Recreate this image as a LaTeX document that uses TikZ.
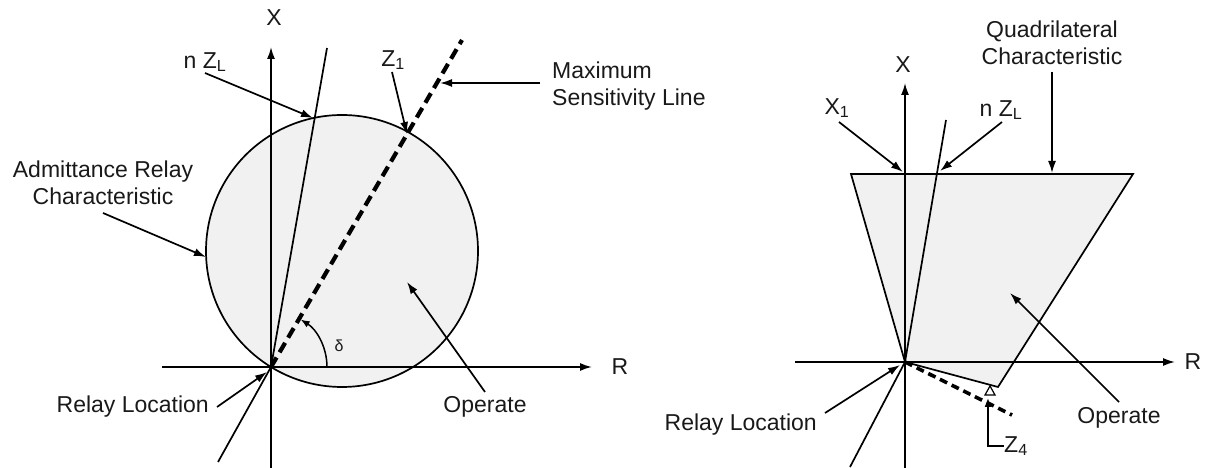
\documentclass[tikz,border=0pt]{standalone}
\usepackage{fontspec}
\setmainfont{Liberation Sans}
\usetikzlibrary{arrows.meta}
\begin{document}
\begin{tikzpicture}[x=1pt,y=1pt,
  ln/.style={line width=1.7pt, draw=black},
  arr/.style={line width=1.7pt, -{Latex[length=12pt,width=8pt]}},
  sarr/.style={line width=1.5pt, -{Latex[length=9pt,width=7pt]}},
  lbl/.style={font=\fontsize{23}{27}\selectfont, text=black!90, inner sep=0pt, align=center},
  slbl/.style={font=\fontsize{16}{18}\selectfont, text=black!90, inner sep=0pt},
  dshA/.style={line width=4.2pt, dash pattern=on 11pt off 6pt},
  dshB/.style={line width=3.6pt, dash pattern=on 8pt off 5pt},
  zone/.style={fill=gray!11},
]
\useasboundingbox (0,0) rectangle (1207,468);

% ================= LEFT: admittance relay =================
\coordinate (O1) at (271,101);
\coordinate (C1) at (342,217);
\coordinate (Z1pt) at (407,334);
\coordinate (nZtop) at (327,420);
\coordinate (nZpt) at (313,350);
\coordinate (MStop) at (462,428);
\coordinate (MSbot) at (218,6);
\coordinate (RaxL) at (162,101);
\coordinate (RaxR) at (592,101);
\coordinate (XaxB) at (271,0);
\coordinate (XaxT) at (271,421);
\coordinate (MSpt) at (440,385);
\coordinate (Cleft) at (206,211);
\coordinate (OpTip) at (407,186);
\coordinate (RLtip) at (267,96);
\coordinate (d0) at (327,101);

\fill[zone] (C1) circle (136);
\draw[ln] (C1) circle (136);

\draw[ln] (O1) -- (nZtop);
\draw[ln] (O1) -- (MSbot);
\draw[dshA] (O1) -- (MStop);

\draw[arr] (RaxL) -- (RaxR);
\draw[arr] (XaxB) -- (XaxT);

\node[lbl] (X1lab) at (274,450) {X};
\node[lbl] (R1lab) at (620,101) {R};

\node[lbl] (nZ1lab) at (205,406) {n Z\textsubscript{L}};
\draw[arr] (205,395) -- (nZpt);

\node[lbl] (Z1lab) at (393,408) {Z\textsubscript{1}};
\draw[arr] (392,396) -- (Z1pt);

\node[lbl, align=left, anchor=west] (MSlab) at (552,382) {Maximum\\Sensitivity Line};
\draw[arr] (MSlab.west) ++(-12,3) -- (MSpt);

\node[lbl] (Adlab) at (103,285) {Admittance Relay\\Characteristic};
\draw[arr] (103,255) -- (Cleft);

\draw[sarr] (d0) arc[start angle=0, end angle=58, radius=56];
\node[slbl] (dlab) at (339,122) {δ};

\node[lbl] (Op1lab) at (485,61) {Operate};
\draw[arr] (485,76) -- (OpTip);

\node[lbl, anchor=east] (RL1lab) at (209,61) {Relay Location};
\draw[arr] (217,61) -- (RLtip);

% ================= RIGHT: quadrilateral =================
\coordinate (O2) at (905,106);
\coordinate (QTL) at (851,294);
\coordinate (QTR) at (1133,294);
\coordinate (QBR) at (998,81);
\coordinate (nZ2top) at (946,348);
\coordinate (low2) at (850,1);
\coordinate (Z4end) at (1012,53);
\coordinate (RaxL2) at (795,106);
\coordinate (RaxR2) at (1175,106);
\coordinate (XaxB2) at (905,0);
\coordinate (XaxT2) at (905,385);
\coordinate (X1pt) at (903,296);
\coordinate (nZ2pt) at (940,297);
\coordinate (Qpt) at (1052,295);
\coordinate (Op2tip) at (1010,175);
\coordinate (RL2tip) at (900,103);
\coordinate (Z4tip) at (988,70);

\fill[zone] (O2) -- (QTL) -- (QTR) -- (QBR) -- cycle;
\draw[ln, line join=miter] (O2) -- (QTL) -- (QTR) -- (QBR) -- cycle;

\draw[ln] (O2) -- (nZ2top);
\draw[ln] (O2) -- (low2);
\draw[dshB] (O2) -- (Z4end);

\draw[arr] (RaxL2) -- (RaxR2);
\draw[arr] (XaxB2) -- (XaxT2);

\node[lbl] (X2lab) at (903,403) {X};
\node[lbl] (R2lab) at (1193,106) {R};

\node[lbl] (X1lab2) at (837,360) {X\textsubscript{1}};
\draw[arr] (839,346) -- (X1pt);

\node[lbl] (nZ2lab) at (1001,358) {n Z\textsubscript{L}};
\draw[arr] (1002,346) -- (nZ2pt);

\node[lbl] (Qlab) at (1052,425) {Quadrilateral\\Characteristic};
\draw[arr] (1052,396) -- (Qpt);

\node[lbl] (Op2lab) at (1119,50) {Operate};
\draw[arr] (1119,66) -- (Op2tip);

\node[lbl, anchor=east] (RL2lab) at (817,43) {Relay Location};
\draw[arr] (825,55) -- (RL2tip);

\draw[line width=1.2pt, fill=white] (985,73) -- (995,73) -- (990,82) -- cycle;
\node[lbl, anchor=west] (Z4lab) at (1004,22) {Z\textsubscript{4}};
\draw[sarr] (Z4lab.west) -- (988,22) -- (Z4tip);
\end{tikzpicture}
\end{document}
